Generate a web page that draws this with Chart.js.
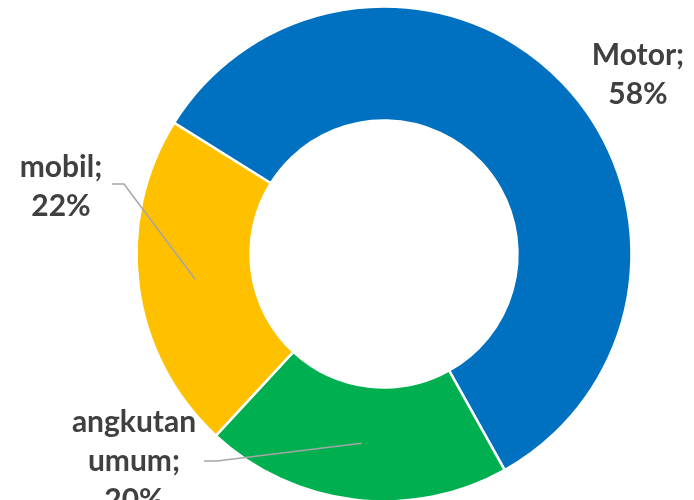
<!DOCTYPE html>
<html>
<head>
<meta charset="utf-8">
<script src="https://cdn.jsdelivr.net/npm/chart.js@4.4.0/dist/chart.umd.min.js"></script>
<style>
  html, body { margin: 0; padding: 0; background: #ffffff; }
  #wrap { width: 694px; height: 500px; position: relative; }
</style>
</head>
<body>
<div id="wrap"><canvas id="chart" width="694" height="500"></canvas></div>
<script>
// Transport mode shares (percent)
const categories = ['Motor', 'angkutan umum', 'mobil'];
const shares = [58, 20, 22];
const sliceColors = ['#0070C0', '#00B050', '#FFC000'];

// Where each data label sits and how its leader line runs
const labelPlacement = [
  { lines: ['Motor;'], cx: 638, baseline: 65, leader: null },
  { lines: ['angkutan', 'umum;'], cx: 134, baseline: 432, leader: [[204, 461], [217, 461]] },
  { lines: ['mobil;'], cx: 61, baseline: 177, leader: [[112, 184], [124, 184]] }
];
const lineGap = 39;
const labelFont = 'bold 30px Lato, "Open Sans", sans-serif';

const dataLabels = {
  id: 'dataLabels',
  afterDatasetsDraw(chart) {
    const ctx = chart.ctx;
    const meta = chart.getDatasetMeta(0);
    ctx.save();
    meta.data.forEach((arc, i) => {
      const place = labelPlacement[i];
      if (place.leader) {
        const anchor = arc.getCenterPoint();
        ctx.beginPath();
        ctx.strokeStyle = '#A6A6A6';
        ctx.lineWidth = 1.5;
        ctx.moveTo(place.leader[0][0], place.leader[0][1]);
        ctx.lineTo(place.leader[1][0], place.leader[1][1]);
        ctx.lineTo(anchor.x, anchor.y);
        ctx.stroke();
      }
      const text = place.lines.concat([shares[i] + '%']);
      ctx.fillStyle = '#404040';
      ctx.font = labelFont;
      ctx.textAlign = 'center';
      ctx.textBaseline = 'alphabetic';
      text.forEach((t, k) => ctx.fillText(t, place.cx, place.baseline + k * lineGap));
    });
    ctx.restore();
  }
};

new Chart(document.getElementById('chart'), {
  type: 'doughnut',
  data: {
    labels: categories,
    datasets: [{
      data: shares,
      backgroundColor: sliceColors,
      borderColor: '#ffffff',
      borderWidth: 2.5,
      hoverOffset: 0
    }]
  },
  options: {
    responsive: false,
    animation: false,
    rotation: -58,
    radius: 247.5,
    cutout: 132,
    layout: { padding: { left: 74, right: 0, top: 8, bottom: 0 } },
    plugins: {
      legend: { display: false },
      tooltip: { enabled: false }
    },
    events: []
  },
  plugins: [dataLabels]
});
</script>
</body>
</html>
